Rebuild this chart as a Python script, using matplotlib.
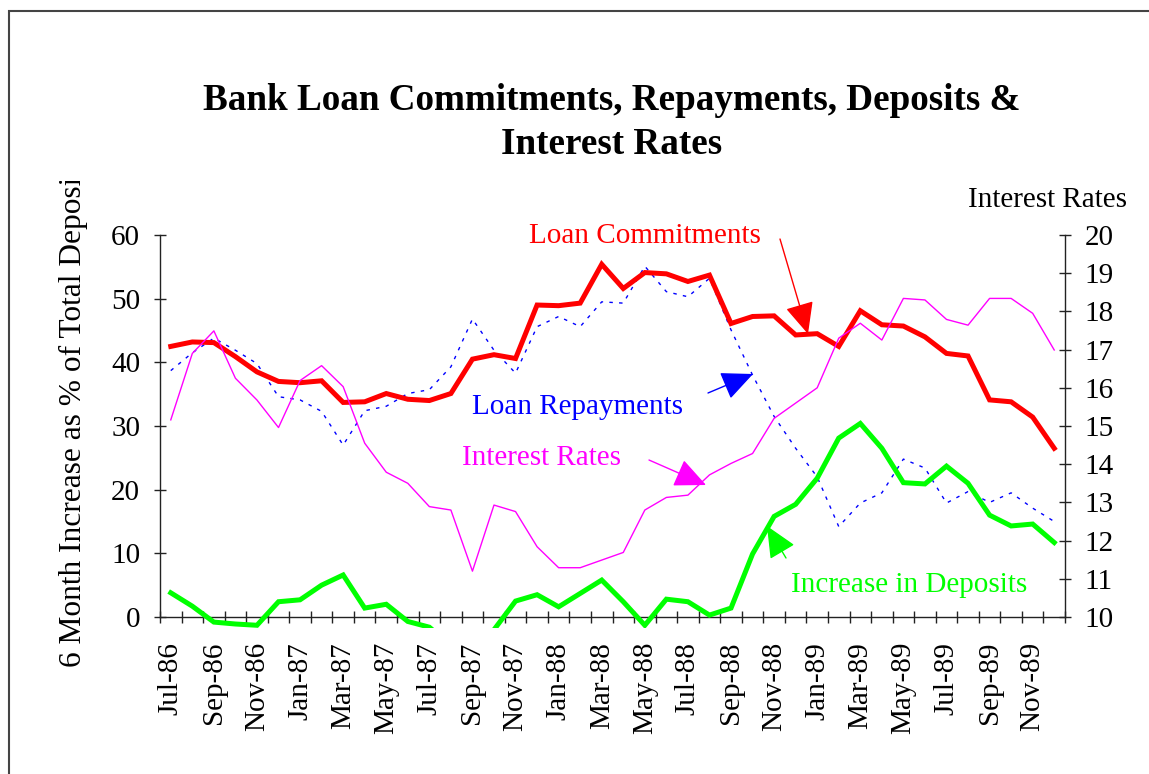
import matplotlib
matplotlib.use('Agg')
import matplotlib.pyplot as plt
from matplotlib.patches import Rectangle, FancyArrowPatch
from matplotlib.ticker import FixedLocator, NullFormatter

months = ['Jul-86', 'Aug-86', 'Sep-86', 'Oct-86', 'Nov-86', 'Dec-86',
          'Jan-87', 'Feb-87', 'Mar-87', 'Apr-87', 'May-87', 'Jun-87',
          'Jul-87', 'Aug-87', 'Sep-87', 'Oct-87', 'Nov-87', 'Dec-87',
          'Jan-88', 'Feb-88', 'Mar-88', 'Apr-88', 'May-88', 'Jun-88',
          'Jul-88', 'Aug-88', 'Sep-88', 'Oct-88', 'Nov-88', 'Dec-88',
          'Jan-89', 'Feb-89', 'Mar-89', 'Apr-89', 'May-89', 'Jun-89',
          'Jul-89', 'Aug-89', 'Sep-89', 'Oct-89', 'Nov-89', 'Dec-89']

loan_commitments = [42.5, 43.2, 43.1, 40.9, 38.5, 37.0,
                    36.8, 37.1, 33.7, 33.8, 35.1, 34.2, 34.0, 35.1, 40.5, 41.2, 40.6, 49.0,
                    48.9, 49.3, 55.4, 51.6, 54.1, 53.9, 52.7, 53.7, 46.1, 47.2, 47.3, 44.3,
                    44.5, 42.5, 48.1, 45.9, 45.7, 44.0, 41.4, 41.0, 34.1, 33.8, 31.4, 26.5]

loan_repayments = [38.7, 41.5, 43.8, 41.9, 39.8, 34.6,
                   34.1, 32.3, 27.0, 32.4, 33.1, 35.1, 35.7, 39.3, 46.8, 41.9, 38.3, 45.6,
                   47.2, 45.6, 49.5, 49.3, 55.1, 51.1, 50.3, 53.2, 45.1, 38.0, 31.5, 26.5,
                   22.0, 14.2, 17.9, 19.5, 24.8, 23.4, 17.9, 19.7, 18.0, 19.5, 17.1, 15.0]

deposit_increase = [3.8, 1.7, -0.8, -1.1, -1.3, 2.4,
                    2.7, 5.0, 6.6, 1.4, 2.0, -0.7, -1.6, -4.5, -5.5, -2.0, 2.5, 3.5,
                    1.6, 3.7, 5.8, 2.4, -1.3, 2.8, 2.4, 0.3, 1.4, 9.9, 15.8, 17.7,
                    21.8, 28.1, 30.4, 26.5, 21.1, 20.9, 23.7, 21.0, 16.0, 14.3, 14.6, 11.7]

interest_rates = [15.16, 16.9, 17.49, 16.25, 15.68, 14.96,
                  16.19, 16.58, 16.03, 14.55, 13.79, 13.5, 12.89, 12.8, 11.2, 12.93, 12.76, 11.84,
                  11.29, 11.29, 11.49, 11.69, 12.8, 13.13, 13.19, 13.72, 14.02, 14.28, 15.2, 15.6,
                  16.0, 17.3, 17.69, 17.25, 18.34, 18.3, 17.79, 17.64, 18.34, 18.34, 17.95, 16.99]

left_ticks = [0, 10, 20, 30, 40, 50, 60]
right_ticks = [10, 11, 12, 13, 14, 15, 16, 17, 18, 19, 20]

W, H = 1149, 774
plt.rcParams['font.family'] = ['Liberation Serif', 'DejaVu Serif']

fig = plt.figure(figsize=(W / 100, H / 100), dpi=100)
fig.patch.set_facecolor('white')


def fx(px):
    return px / W


def fy(py):
    return 1 - py / H


ax = fig.add_axes([fx(160), fy(617), fx(1065) - fx(160), fy(235) - fy(617)])
ax2 = ax.twinx()

x = list(range(len(months)))

ax.plot(x, loan_repayments, color='#0000FF', lw=1.0, ls=(0, (2.5, 4.5)), zorder=2)
ax.plot(x, loan_commitments, color='#FF0000', lw=3.6, zorder=3, solid_joinstyle='miter')
gline, = ax.plot(x, deposit_increase, color='#00FF00', lw=3.6, zorder=3, solid_joinstyle='miter')
gline.set_clip_path(Rectangle((0, -0.03), 1, 1.03, transform=ax.transAxes))
ax2.plot(x, interest_rates, color='#FF00FF', lw=1.0, zorder=2)

ax.set_xlim(-0.5, len(months) - 0.5)
ax.set_ylim(0, 60)
ax2.set_ylim(10, 20)
ax.set_yticks(left_ticks)
ax2.set_yticks(right_ticks)

ax.xaxis.set_major_locator(FixedLocator(x[::2]))
ax.set_xticklabels(months[::2], rotation=90, fontsize=21)
ax.xaxis.set_minor_locator(FixedLocator([i - 0.5 for i in range(len(months) + 1)]))
ax.xaxis.set_minor_formatter(NullFormatter())
ax.tick_params(axis='x', which='major', length=0, pad=18)
ax.tick_params(axis='x', which='minor', direction='inout', length=8.6, width=1, color='#222222')
for lbl in ax.get_xticklabels():
    lbl.set_va('top')
    lbl.set_ha('center')

ax.tick_params(axis='y', direction='inout', length=8.6, width=1, labelsize=21, pad=10, color='#222222')
ax2.tick_params(axis='y', direction='inout', length=8.6, width=1, labelsize=21, pad=10, color='#222222')

for a in (ax, ax2):
    a.spines['top'].set_visible(False)
    for s in a.spines.values():
        s.set_color('#222222')
        s.set_linewidth(1.0)
ax2.spines['left'].set_visible(False)
ax2.spines['bottom'].set_visible(False)
ax.spines['right'].set_visible(False)

# y label (cut off at the top like the original)
fig.text(fx(73), fy(667), '6 Month Increase as % of Total Deposits', rotation=90,
         rotation_mode='anchor', ha='left', va='center', fontsize=22.6, zorder=3)
fig.patches.append(Rectangle((fx(40), fy(181)), fx(60), fy(120) - fy(181),
                             transform=fig.transFigure, facecolor='white',
                             edgecolor='none', zorder=5))

# outer border
fig.patches.append(Rectangle((fx(8.5), -0.1), 1.2, fy(11) + 0.1, transform=fig.transFigure,
                             fill=False, edgecolor='#444444', lw=1.5, zorder=6))

fig.text(fx(1048), fy(200), 'Interest Rates', ha='center', va='center', fontsize=21)

# title
fig.text(fx(612), fy(100), 'Bank Loan Commitments, Repayments, Deposits &',
         ha='center', va='center', fontsize=26.7, fontweight='bold')
fig.text(fx(612), fy(145), 'Interest Rates',
         ha='center', va='center', fontsize=26.7, fontweight='bold')

# series labels with arrows
fig.text(fx(645), fy(236), 'Loan Commitments', color='#FF0000', ha='center', va='center', fontsize=21)
fig.text(fx(577), fy(407), 'Loan Repayments', color='#0000FF', ha='center', va='center', fontsize=21)
fig.text(fx(542), fy(458), 'Interest Rates', color='#FF00FF', ha='center', va='center', fontsize=21)
fig.text(fx(909), fy(585), 'Increase in Deposits', color='#00FF00', ha='center', va='center', fontsize=21)

arrows = [((780, 239), (808, 334), '#FF0000'),
          ((708, 393), (753, 374), '#0000FF'),
          ((649, 460), (706, 485), '#FF00FF'),
          ((786, 558), (767, 526), '#00FF00')]
for (x0, y0), (x1, y1), c in arrows:
    fig.add_artist(FancyArrowPatch(
        (fx(x0), fy(y0)), (fx(x1), fy(y1)), transform=fig.transFigure,
        arrowstyle='-|>,head_length=1.1,head_width=0.5', mutation_scale=18,
        color=c, lw=1.0, shrinkA=0, shrinkB=0))

fig.savefig('out.png', dpi=100, facecolor='white')
